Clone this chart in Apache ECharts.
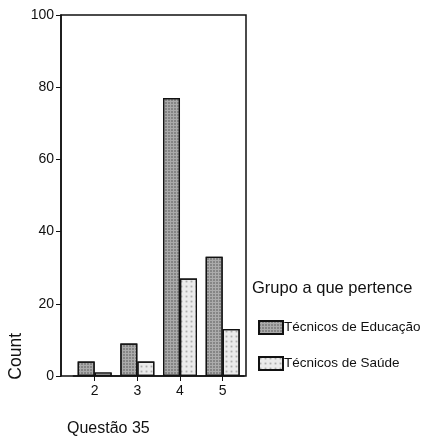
<!DOCTYPE html>
<html>
<head>
<meta charset="utf-8">
<script src="https://cdn.jsdelivr.net/npm/echarts@6/dist/echarts.min.js"></script>
<style>html,body{margin:0;padding:0;background:#fff}#c{width:424px;height:442px}</style>
</head>
<body>
<div id="c"></div>
<script>
var categories = ['2', '3', '4', '5'];
var seriesNames = ['Técnicos de Educação', 'Técnicos de Saúde'];
var educacao = [4, 9, 77, 33];
var saude = [1, 4, 27, 13];
var yTicks = [0, 20, 40, 60, 80, 100];

var font = 'Liberation Sans, Arial, Helvetica, sans-serif';
var chart = echarts.init(document.getElementById('c'), null, {renderer: 'canvas'});
chart.setOption({
  backgroundColor: '#fff',
  animation: false,
  title: {
    text: 'Grupo a que pertence', left: 252, top: 280, padding: 0,
    textStyle: {fontFamily: font, fontSize: 16.5, fontWeight: 'normal', color: '#111'}
  },
  legend: {
    orient: 'vertical', left: 258, top: 320, padding: 0,
    itemWidth: 24, itemHeight: 13, itemGap: 21,
    icon: 'rect',
    data: seriesNames,
    textStyle: {fontFamily: font, fontSize: 13.5, color: '#111', padding: [0, 0, 0, -4]}
  },
  graphic: [
    {type: 'text', left: 7, top: 333, rotation: Math.PI / 2,
     style: {text: 'Count', font: '17.5px ' + font, fill: '#111'}},
    {type: 'text', left: 67, top: 421,
     style: {text: 'Questão 35', font: '16px ' + font, fill: '#111'}}
  ],
  grid: [
    {left: 61, right: 178, top: 15, bottom: 66, show: true, borderColor: '#111', borderWidth: 1.5, backgroundColor: 'transparent'},
    {left: 73.35, right: 180, top: 15, bottom: 66}
  ],
  xAxis: [
    {gridIndex: 0, type: 'category', data: categories, show: false},
    {gridIndex: 1, type: 'category', data: categories,
     axisLine: {show: true, lineStyle: {color: '#111', width: 1.5}},
     axisTick: {show: true, alignWithLabel: true, length: 5, lineStyle: {color: '#111'}},
     axisLabel: {fontFamily: font, fontSize: 14, color: '#111', margin: 8}}
  ],
  yAxis: [
    {gridIndex: 0, type: 'value', min: yTicks[0], max: yTicks[yTicks.length - 1], interval: 20,
     splitLine: {show: false},
     axisLine: {show: true, lineStyle: {color: '#111', width: 1.5}},
     axisTick: {show: true, length: 5, lineStyle: {color: '#111'}},
     axisLabel: {fontFamily: font, fontSize: 14, color: '#111', margin: 7}},
    {gridIndex: 1, type: 'value', min: yTicks[0], max: yTicks[yTicks.length - 1], interval: 20, show: false, splitLine: {show: false}}
  ],
  series: [
    {name: seriesNames[0], type: 'bar', xAxisIndex: 1, yAxisIndex: 1, data: educacao,
     barWidth: 17, barGap: '0%',
     itemStyle: {color: '#ababab', borderColor: '#111', borderWidth: 1.2,
       decal: {symbol: 'rect', symbolSize: 0.7, dashArrayX: [2, 1], dashArrayY: [2, 1], color: 'rgba(40,40,40,0.55)', rotation: 0}}},
    {name: seriesNames[1], type: 'bar', xAxisIndex: 1, yAxisIndex: 1, data: saude,
     barWidth: 17, barGap: '0%',
     itemStyle: {color: '#ebebeb', borderColor: '#111', borderWidth: 1.2,
       decal: {symbol: 'rect', symbolSize: 0.6, dashArrayX: [3, 2], dashArrayY: [3, 2], color: 'rgba(80,80,80,0.4)', rotation: 0}}}
  ]
});
</script>
</body>
</html>
